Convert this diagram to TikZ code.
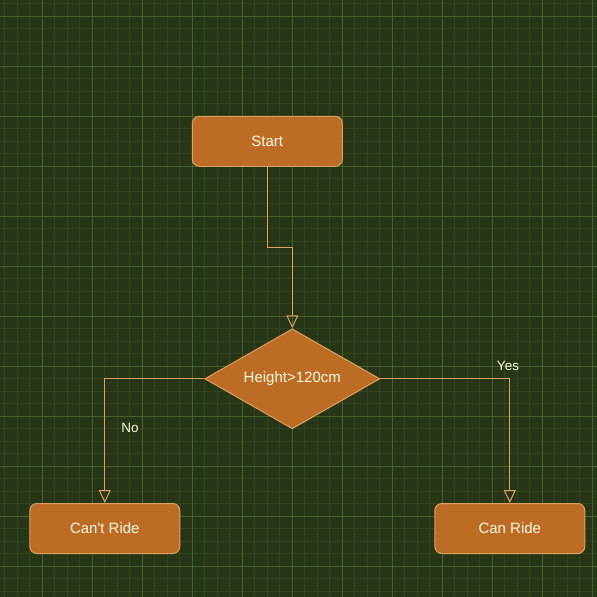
\documentclass[tikz,border=0pt]{standalone}
\usepackage{fontspec}
\setmainfont{Liberation Sans}
\usetikzlibrary{shapes.geometric,arrows.meta,calc}
\definecolor{bgc}{HTML}{283618}
\definecolor{minorc}{HTML}{33451F}
\definecolor{majorc}{HTML}{46632A}
\definecolor{fillc}{HTML}{BC6C25}
\definecolor{strokec}{HTML}{DDA15E}
\definecolor{textc}{HTML}{FEFAE0}
\tikzset{
  box/.style={draw=strokec, fill=fillc, line width=1pt, rounded corners=7pt,
    minimum width=150pt, minimum height=50pt, inner sep=0pt,
    text=textc, font=\fontsize{15}{18}\selectfont},
  decide/.style={draw=strokec, fill=fillc, line width=1pt, shape=diamond, aspect=1.75,
    minimum width=175pt, minimum height=100pt, inner sep=0pt,
    text=textc, font=\fontsize{15}{18}\selectfont},
  edge/.style={draw=strokec, line width=1pt, -{Triangle[open, length=13pt, width=12pt]}},
  lbl/.style={text=textc, font=\fontsize{13.5}{16}\selectfont, inner sep=0pt},
  gminor/.style={draw=minorc, line width=1pt},
  gmajor/.style={draw=majorc, line width=1pt}
}
\begin{document}
\begin{tikzpicture}[x=1pt, y=-1pt]
\fill[bgc] (0,0) rectangle (597,597);
\useasboundingbox (0,0) rectangle (597,597);
% minor grid
\foreach \i in {0,...,48} {
  \draw[gminor] ({4.8+12.5*\i},0) -- ({4.8+12.5*\i},597);
  \draw[gminor] (0,{3.5+12.5*\i}) -- (597,{3.5+12.5*\i});
}
% major grid
\foreach \i in {0,...,11} {
  \draw[gmajor] ({42.3+50*\i},0) -- ({42.3+50*\i},597);
  \draw[gmajor] (0,{16+50*\i}) -- (597,{16+50*\i});
}
\node[box] (start) at (267.3,141.3) {Start};
\node[decide] (dec) at (292.3,378.8) {Height>120cm};
\node[box] (cant) at (104.8,528.5) {Can\textquotesingle t Ride};
\node[box] (can) at (509.8,528.5) {Can Ride};
\coordinate (mid) at ($(start.south)!0.5!(dec.north)$);
\draw[edge] (start.south) |- (mid) -| (dec.north);
\draw[edge] (dec.west) -| (cant.north);
\draw[edge] (dec.east) -| (can.north);
\node[lbl] (no) at (130,428) {No};
\node[lbl] (yes) at (508,366) {Yes};
\end{tikzpicture}
\end{document}
